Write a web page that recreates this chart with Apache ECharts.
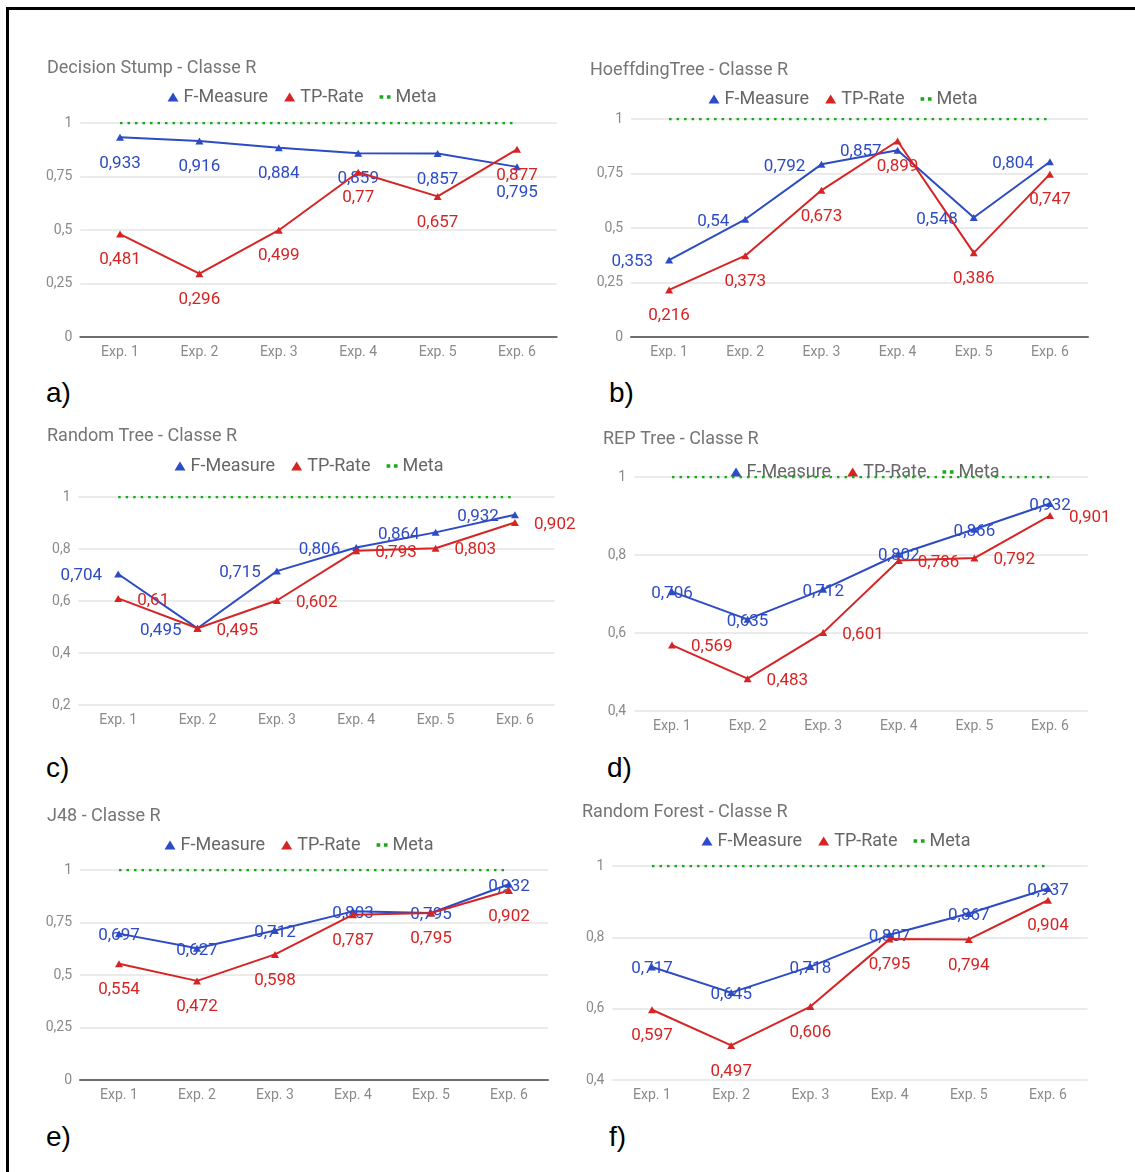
<!DOCTYPE html>
<html>
<head>
<meta charset="utf-8">
<script src="https://cdn.jsdelivr.net/npm/echarts@6/dist/echarts.min.js"></script>
<style>
  html, body { margin: 0; padding: 0; background: #fff; }
  body { width: 1135px; height: 1172px; position: relative; overflow: hidden; }
  .frame { position: absolute; left: 6px; top: 7px; width: 1400px; height: 1400px;
           border-left: 3px solid #000; border-top: 3px solid #000; }
  .panel { position: absolute; }
  .tag { position: absolute; font-family: "Liberation Sans", Arial, sans-serif;
         font-size: 28px; color: #000; line-height: 30px; }
</style>
</head>
<body>
<div class="frame"></div>
<div id="pa" class="panel" style="left:27px;top:40px;width:550px;height:330px"></div>
<div id="pb" class="panel" style="left:590px;top:40px;width:506px;height:330px"></div>
<div id="pc" class="panel" style="left:30px;top:410px;width:558px;height:335px"></div>
<div id="pd" class="panel" style="left:600px;top:410px;width:530px;height:335px"></div>
<div id="pe" class="panel" style="left:27px;top:785px;width:544px;height:330px"></div>
<div id="pf" class="panel" style="left:572px;top:785px;width:528px;height:330px"></div>
<div class="tag" style="left:46px;top:378px">a)</div>
<div class="tag" style="left:609px;top:378px">b)</div>
<div class="tag" style="left:46px;top:753px">c)</div>
<div class="tag" style="left:607px;top:753px">d)</div>
<div class="tag" style="left:46px;top:1122px">e)</div>
<div class="tag" style="left:609px;top:1122px">f)</div>
<script>
// Experiments on the x axis
const categories = ['Exp. 1', 'Exp. 2', 'Exp. 3', 'Exp. 4', 'Exp. 5', 'Exp. 6'];
// Target level drawn as the dotted "Meta" line
const metaValues = [1, 1, 1, 1, 1, 1];

// Decision Stump
const stumpF  = [0.933, 0.916, 0.884, 0.859, 0.857, 0.795];
const stumpTP = [0.481, 0.296, 0.499, 0.77, 0.657, 0.877];
// HoeffdingTree
const hoeffF  = [0.353, 0.54, 0.792, 0.857, 0.548, 0.804];
const hoeffTP = [0.216, 0.373, 0.673, 0.899, 0.386, 0.747];
// Random Tree
const rtreeF  = [0.704, 0.495, 0.715, 0.806, 0.864, 0.932];
const rtreeTP = [0.61, 0.495, 0.602, 0.793, 0.803, 0.902];
// REP Tree
const repF  = [0.706, 0.635, 0.712, 0.802, 0.866, 0.932];
const repTP = [0.569, 0.483, 0.601, 0.786, 0.792, 0.901];
// J48
const j48F  = [0.697, 0.627, 0.712, 0.803, 0.795, 0.932];
const j48TP = [0.554, 0.472, 0.598, 0.787, 0.795, 0.902];
// Random Forest
const rforF  = [0.717, 0.645, 0.718, 0.807, 0.867, 0.937];
const rforTP = [0.597, 0.497, 0.606, 0.795, 0.794, 0.904];

// Y axis ranges: [min, max, interval]
const axisFull = [0, 1, 0.25];
const axisFrom02 = [0.2, 1, 0.2];
const axisFrom04 = [0.4, 1, 0.2];

const seriesNames = ['F-Measure', 'TP-Rate', 'Meta'];

const BLUE = '#2c4bc4';
const RED = '#d62424';
const GREEN = '#19a819';
const FONT = 'Roboto, "Noto Sans", sans-serif';

// decimal comma, as in the Portuguese locale
function fmt(v) {
  return String(parseFloat(Number(v).toFixed(3))).replace('.', ',');
}

function labelCfg(pos, color) {
  const dist = { bottom: 12, left: 12, right: 15, inside: 0, top: 10 }[pos];
  return {
    show: true, position: pos, distance: dist, offset: [0, 2], color: color,
    fontFamily: FONT, fontSize: 17,
    formatter: p => fmt(p.value)
  };
}

function buildOption(p) {
  const [ymin, ymax, step] = p.axis;
  return {
    animation: false,
    textStyle: { fontFamily: FONT },
    title: {
      text: p.title, left: p.titleLeft, top: p.titleTop, padding: 0,
      textStyle: { fontFamily: FONT, fontSize: 18, fontWeight: 'normal', color: '#757575', lineHeight: 20 }
    },
    legend: {
      top: p.legendTop, left: 'center', padding: 0,
      itemWidth: 11, itemHeight: 9, itemGap: 16,
      textStyle: { fontFamily: FONT, fontSize: 18, color: '#666', lineHeight: 20 },
      data: [
        { name: seriesNames[0], icon: 'triangle' },
        { name: seriesNames[1], icon: 'triangle' },
        { name: seriesNames[2], icon: 'path://M0,0h3v3h-3zM6,0h3v3h-3z' }
      ]
    },
    grid: { left: p.grid[0], right: p.grid[1], top: p.grid[2], bottom: p.grid[3], containLabel: false },
    xAxis: {
      type: 'category', data: categories, boundaryGap: true,
      axisTick: { show: false },
      axisLine: { show: ymin === 0, lineStyle: { color: '#6e6e6e', width: 2 } },
      axisLabel: { fontFamily: FONT, fontSize: 14, color: '#8a8a8a', margin: 8 }
    },
    yAxis: {
      type: 'value', min: ymin, max: ymax, interval: step,
      axisLine: { show: false }, axisTick: { show: false },
      splitLine: { lineStyle: { color: '#e4e4e4', width: 1.5 } },
      axisLabel: { fontFamily: FONT, fontSize: 14, color: '#8a8a8a', margin: 8, formatter: v => fmt(v) }
    },
    series: [
      {
        name: seriesNames[0], type: 'line', data: p.f, color: BLUE,
        symbol: 'triangle', symbolSize: [8, 7], lineStyle: { width: 2 },
        label: labelCfg(p.fPos, BLUE), z: 2
      },
      {
        name: seriesNames[1], type: 'line', data: p.tp, color: RED,
        symbol: 'triangle', symbolSize: [8, 7], lineStyle: { width: 2 },
        label: labelCfg(p.tpPos, RED), z: 3
      },
      {
        name: seriesNames[2], type: 'line', data: metaValues, color: GREEN,
        showSymbol: false, symbol: 'none',
        lineStyle: { width: 2.5, type: [2.5, 5], color: GREEN }, z: 4
      }
    ]
  };
}

const panels = [
  { id: 'pa', title: 'Decision Stump - Classe R', f: stumpF, tp: stumpTP, axis: axisFull,
    titleLeft: 20, titleTop: 18, legendTop: 47, grid: [53.3, 20.3, 83, 33], fPos: 'bottom', tpPos: 'bottom' },
  { id: 'pb', title: 'HoeffdingTree - Classe R', f: hoeffF, tp: hoeffTP, axis: axisFull,
    titleLeft: 0, titleTop: 20, legendTop: 49, grid: [41, 8, 79, 33], fPos: 'left', tpPos: 'bottom' },
  { id: 'pc', title: 'Random Tree - Classe R', f: rtreeF, tp: rtreeTP, axis: axisFrom02,
    titleLeft: 17, titleTop: 16, legendTop: 46, grid: [48.5, 33.4, 87, 40], fPos: 'left', tpPos: 'right' },
  { id: 'pd', title: 'REP Tree - Classe R', f: repF, tp: repTP, axis: axisFrom04,
    titleLeft: 3, titleTop: 19, legendTop: 52, grid: [34.2, 42.2, 67, 34], fPos: 'inside', tpPos: 'right' },
  { id: 'pe', title: 'J48 - Classe R', f: j48F, tp: j48TP, axis: axisFull,
    titleLeft: 20, titleTop: 21, legendTop: 50, grid: [53, 23, 85, 35], fPos: 'inside', tpPos: 'bottom' },
  { id: 'pf', title: 'Random Forest - Classe R', f: rforF, tp: rforTP, axis: axisFrom04,
    titleLeft: 10, titleTop: 17, legendTop: 46, grid: [40.4, 12.4, 81, 35], fPos: 'inside', tpPos: 'bottom' }
];

panels.forEach(p => {
  const chart = echarts.init(document.getElementById(p.id), null, { renderer: 'canvas' });
  chart.setOption(buildOption(p));
});
</script>
</body>
</html>
